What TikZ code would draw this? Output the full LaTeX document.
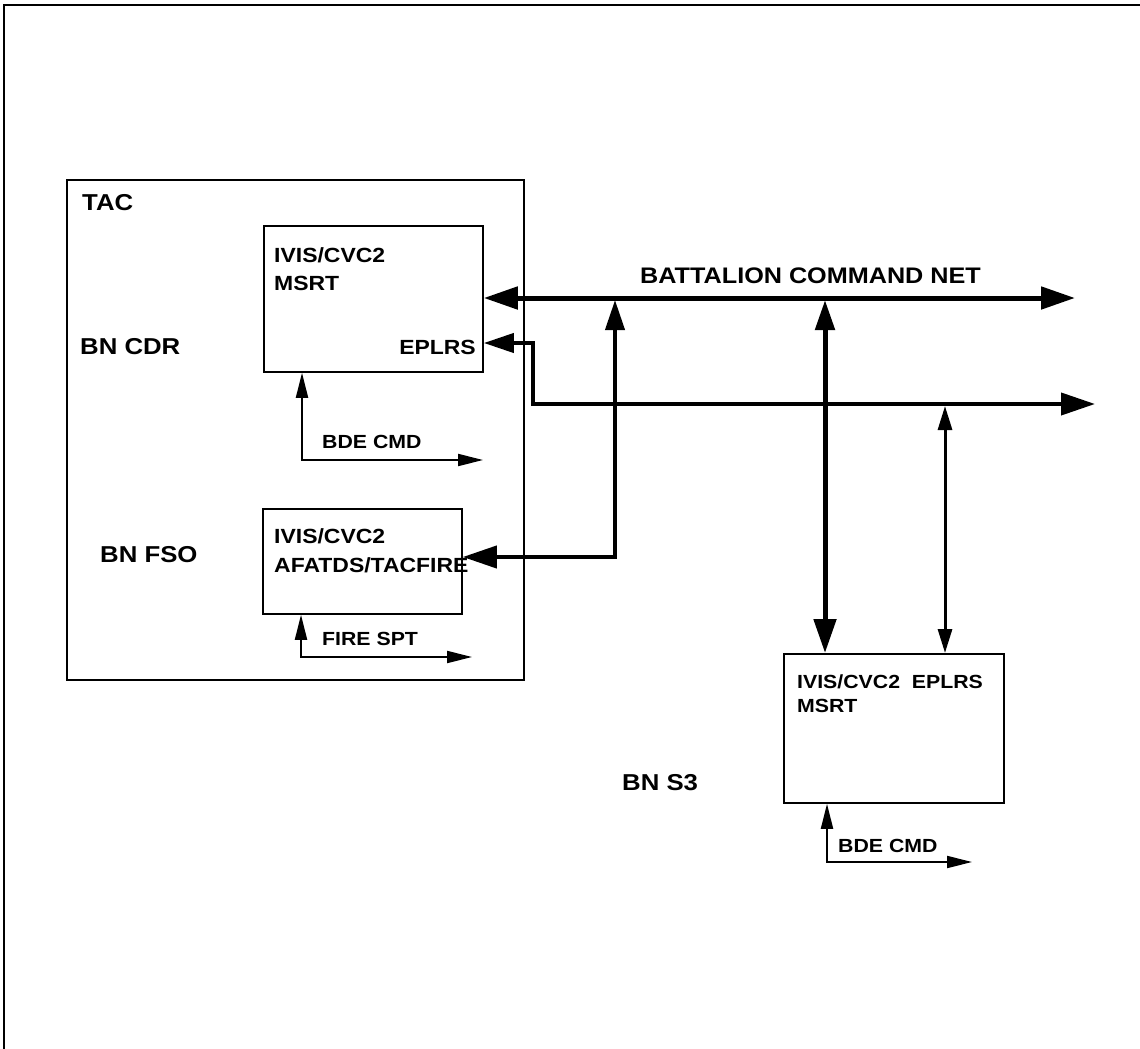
\documentclass[tikz,border=0pt]{standalone}
\usepackage{fontspec}
\setmainfont{Liberation Sans}[FakeStretch=1.12]
\usetikzlibrary{arrows.meta}
\begin{document}
\begin{tikzpicture}[x=1pt,y=-1pt,
  box/.style={draw, line width=1.8pt, anchor=north west, inner sep=0pt},
  boxtxt/.style={font=\bfseries\fontsize{20.5}{24}\selectfont, inner sep=0pt, anchor=base west},
  lbl/.style={font=\bfseries\fontsize{23}{27}\selectfont, inner sep=0pt, anchor=base west},
  small/.style={font=\bfseries\fontsize{19}{23}\selectfont, inner sep=0pt, anchor=base west},
  netfont/.style={font=\bfseries\fontsize{22.5}{26}\selectfont, inner sep=0pt, anchor=base west},
  bigtip/.tip={Triangle[length=34pt,width=22pt]},
  midtip/.tip={Triangle[length=30pt,width=19pt]},
  thintip/.tip={Triangle[length=25pt,width=12pt]},
  netline/.style={line width=5pt},
  midline/.style={line width=4pt},
  thinline/.style={line width=2pt},
]
\useasboundingbox (0,0) rectangle (1140,1049);
% outer frame (top and left)
\draw[line width=2pt] (4,1049) -- (4,5) -- (1140,5);

% boxes
\node[box, minimum width=457pt, minimum height=500pt] (tac) at (66,179) {};
\node[box, fill=white, minimum width=219pt, minimum height=146pt] (cdrbox) at (263,225) {};
\node[box, fill=white, minimum width=199pt, minimum height=105pt] (fsobox) at (262,508) {};
\node[box, fill=white, minimum width=220pt, minimum height=149pt] (s3box) at (783,653) {};

% labels
\node[lbl] (tactxt) at (82,210) {TAC};
\node[lbl] (cdrtxt) at (80,354) {BN CDR};
\node[lbl] (fsotxt) at (100,562) {BN FSO};
\node[lbl] (s3txt) at (622,790) {BN S3};

\node[boxtxt] (c1) at (274,262) {IVIS/CVC2};
\node[boxtxt] (c2) at (274,290) {MSRT};
\node[boxtxt, anchor=base east] (c3) at (476,354) {EPLRS};

\node[boxtxt] (f1) at (274,543) {IVIS/CVC2};
\node[boxtxt] (f2) at (274,572) {AFATDS/TACFIRE};

\node[small] (s1) at (797,688) {IVIS/CVC2\ \ EPLRS};
\node[small] (s2) at (797,712) {MSRT};

\node[netfont] (netlbl) at (640,283) {BATTALION COMMAND NET};
\node[small] (bde1) at (322,448) {BDE CMD};
\node[small] (fire) at (322,645) {FIRE SPT};
\node[small] (bde2) at (838,852) {BDE CMD};

% coordinates
\coordinate (netE) at (1075,298);
\coordinate (net2E) at (1095,404);
\coordinate (epY) at (533,343);
\coordinate (fsoX) at (615,557);
\coordinate (s3a) at (825,300);
\coordinate (s3b) at (945,406);
\coordinate (bdeA) at (302,460);
\coordinate (bdeAE) at (483,460);
\coordinate (fireA) at (301,657);
\coordinate (fireAE) at (472,657);
\coordinate (bdeB) at (827,862);
\coordinate (bdeBE) at (972,862);

% battalion command net
\draw[netline, bigtip-bigtip] (cdrbox.east |- netE) -- (netE);
% EPLRS net
\draw[midline, midtip-bigtip] (cdrbox.east |- epY) -- (epY) -- (epY |- net2E) -- (net2E);
% FSO to command net
\draw[midline, bigtip-midtip] (fsobox.east |- fsoX) -- (fsoX) -- (fsoX |- s3a);
% S3 links
\draw[netline, midtip-bigtip] (s3a) -- (s3a |- s3box.north);
\draw[line width=3pt, {Triangle[length=24pt,width=14pt]}-{Triangle[length=24pt,width=14pt]}] (s3b) -- (s3b |- s3box.north);
% BDE CMD / FIRE SPT
\draw[thinline, thintip-thintip] (bdeA |- cdrbox.south) -- (bdeA) -- (bdeAE);
\draw[thinline, thintip-thintip] (fireA |- fsobox.south) -- (fireA) -- (fireAE);
\draw[thinline, thintip-thintip] (bdeB |- s3box.south) -- (bdeB) -- (bdeBE);
\end{tikzpicture}
\end{document}
